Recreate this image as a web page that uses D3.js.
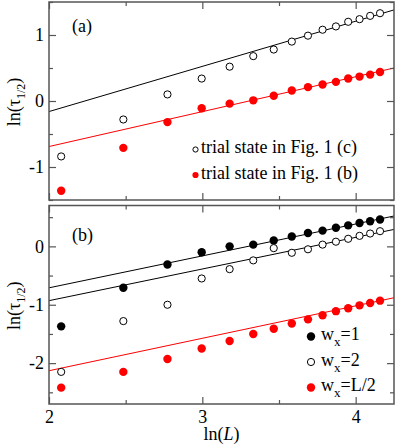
<!DOCTYPE html>
<html>
<head>
<meta charset="utf-8">
<script src="https://cdn.jsdelivr.net/npm/d3@7"></script>
<style>
  body { margin: 0; background: #fff; }
  svg text { font-family: "Liberation Serif", "Times New Roman", serif; fill: #000; }
</style>
</head>
<body>
<div id="chart"></div>
<script>
// system sizes L, plotted as ln(L)
var sizes = [8, 12, 16, 20, 24, 28, 32, 36, 40, 44, 48, 52, 56, 60, 64];

// panel (a)
var trialC = [-0.84, -0.28, 0.10, 0.34, 0.52, 0.68, 0.78, 0.90, 0.99, 1.08, 1.13, 1.20, 1.24, 1.29, 1.33];
var trialB = [-1.36, -0.71, -0.32, -0.11, -0.04, 0.01, 0.08, 0.16, 0.21, 0.25, 0.29, 0.34, 0.37, 0.40, 0.44];
var fitC = [[2, -0.16], [4.25, 1.38]];
var fitB = [[2, -0.69], [4.25, 0.50]];

// panel (b)
var wx1 = [-1.37, -0.71, -0.31, -0.10, 0.00, 0.03, 0.10, 0.17, 0.23, 0.27, 0.32, 0.36, 0.40, 0.43, 0.46];
var wx2 = [-2.15, -1.28, -1.00, -0.55, -0.39, -0.24, -0.03, -0.11, -0.05, 0.03, 0.08, 0.13, 0.18, 0.22, 0.26];
var wxHalf = [-2.42, -2.15, -1.93, -1.75, -1.62, -1.50, -1.41, -1.32, -1.25, -1.18, -1.11, -1.06, -1.01, -0.97, -0.93];
var fitW1 = [[2, -0.71], [4.25, 0.52]];
var fitW2 = [[2, -0.93], [4.25, 0.29]];
var fitWHalf = [[2, -2.13], [4.25, -0.88]];

// ticks
var xMajor = [2, 3, 4];
var xMinor = [2.5, 3.5];
var yMajorA = [-1, 0, 1];
var yMinorA = [-1.5, -0.5, 0.5, 1.5];
var yMajorB = [-2, -1, 0];
var yMinorB = [-2.5, -1.5, -0.5, 0.5];

var legendA = ["trial state in Fig. 1 (c)", "trial state in Fig. 1 (b)"];
var legendB = ["1", "2", "L/2"];

var W = 395, H = 447;
var left = 49, right = 394;
var frameCol = "#555";

var svg = d3.select("#chart").append("svg")
    .attr("width", W)
    .attr("height", H);

var x = d3.scaleLinear().domain([2, 4.25]).range([left, right]);
var yA = d3.scaleLinear().domain([-1.5, 1.5]).range([200, 2]);
var yB = d3.scaleLinear().domain([-2.7, 0.7]).range([404, 205.5]);

var lnL = sizes.map(function(d) { return Math.log(d); });

// draw frame + ticks on all 4 sides for one panel
function panel(y, major, minor, showX) {
    var top = y.range()[1], bottom = y.range()[0];
    var g = svg.append("g");

    var fmt = function(d) { return String(d); };
    var none = function() { return ""; };

    g.append("g").attr("transform", "translate(0," + bottom + ")")
        .call(d3.axisBottom(x).tickValues(xMajor).tickSize(-7).tickPadding(6).tickFormat(showX ? fmt : none));
    g.append("g").attr("transform", "translate(0," + bottom + ")")
        .call(d3.axisBottom(x).tickValues(xMinor).tickSize(-4).tickFormat(none));
    g.append("g").attr("transform", "translate(0," + top + ")")
        .call(d3.axisTop(x).tickValues(xMajor).tickSize(-7).tickFormat(none));
    g.append("g").attr("transform", "translate(0," + top + ")")
        .call(d3.axisTop(x).tickValues(xMinor).tickSize(-4).tickFormat(none));

    g.append("g").attr("transform", "translate(" + left + ",0)")
        .call(d3.axisLeft(y).tickValues(major).tickSize(-7).tickPadding(5).tickFormat(fmt));
    g.append("g").attr("transform", "translate(" + left + ",0)")
        .call(d3.axisLeft(y).tickValues(minor).tickSize(-4).tickFormat(none));
    g.append("g").attr("transform", "translate(" + right + ",0)")
        .call(d3.axisRight(y).tickValues(major).tickSize(-7).tickFormat(none));
    g.append("g").attr("transform", "translate(" + right + ",0)")
        .call(d3.axisRight(y).tickValues(minor).tickSize(-4).tickFormat(none));

    g.selectAll(".domain").remove();
    g.selectAll(".tick line").attr("stroke", frameCol).attr("stroke-width", 1.2);
    g.selectAll(".tick text").style("font-size", "18px").attr("fill", "#000");

    g.append("rect")
        .attr("x", left).attr("y", top)
        .attr("width", right - left).attr("height", bottom - top)
        .attr("fill", "none")
        .attr("stroke", frameCol)
        .attr("stroke-width", 1.5);

    // y label ln(tau_1/2)
    var lab = svg.append("text")
        .attr("transform", "translate(20," + ((top + bottom) / 2 + 1) + ") rotate(-90)")
        .attr("text-anchor", "middle")
        .style("font-size", "18px");
    lab.append("tspan").text("ln(\u03c4");
    lab.append("tspan").attr("dy", 5).style("font-size", "12px").text("1/2");
    lab.append("tspan").attr("dy", -5).text(")");
}

function fitLine(y, pts, col) {
    svg.append("path")
        .datum(pts)
        .attr("d", d3.line().x(function(d) { return x(d[0]); }).y(function(d) { return y(d[1]); }))
        .attr("fill", "none")
        .attr("stroke", col)
        .attr("stroke-width", 1);
}

function dots(y, vals, col, open) {
    svg.append("g").selectAll("circle")
        .data(vals)
        .enter().append("circle")
        .attr("cx", function(d, i) { return x(lnL[i]); })
        .attr("cy", function(d) { return y(d); })
        .attr("r", open ? 3.6 : 4.2)
        .attr("fill", open ? "#fff" : col)
        .attr("stroke", open ? col : "none")
        .attr("stroke-width", 1);
}

// panel (a)
fitLine(yA, fitC, "#000");
fitLine(yA, fitB, "#ff0000");
dots(yA, trialC, "#000", true);
dots(yA, trialB, "#ff0000", false);
panel(yA, yMajorA, yMinorA, false);

svg.append("text").attr("x", 72).attr("y", 32).style("font-size", "18px").text("(a)");

var legA = [{c: "#000", open: true}, {c: "#ff0000", open: false}];
legendA.forEach(function(t, i) {
    var ly = 149.5 + i * 25.5;
    svg.append("circle")
        .attr("cx", 195.5).attr("cy", ly)
        .attr("r", legA[i].open ? 2.6 : 3.1)
        .attr("fill", legA[i].open ? "#fff" : legA[i].c)
        .attr("stroke", legA[i].open ? legA[i].c : "none");
    svg.append("text")
        .attr("x", 201).attr("y", ly + 3.6)
        .style("font-size", "18px")
        .text(t);
});

// panel (b)
fitLine(yB, fitW1, "#000");
fitLine(yB, fitW2, "#000");
fitLine(yB, fitWHalf, "#ff0000");
dots(yB, wx1, "#000", false);
dots(yB, wx2, "#000", true);
dots(yB, wxHalf, "#ff0000", false);
panel(yB, yMajorB, yMinorB, true);

svg.append("text").attr("x", 72).attr("y", 241).style("font-size", "18px").text("(b)");

var legB = [{c: "#000", open: false}, {c: "#000", open: true}, {c: "#ff0000", open: false}];
legendB.forEach(function(t, i) {
    var ly = 336.5 + i * 25.5;
    svg.append("circle")
        .attr("cx", 311).attr("cy", ly)
        .attr("r", legB[i].open ? 3.6 : 4.2)
        .attr("fill", legB[i].open ? "#fff" : legB[i].c)
        .attr("stroke", legB[i].open ? legB[i].c : "none");
    var tx = svg.append("text")
        .attr("x", 321).attr("y", ly + 3.5)
        .style("font-size", "18px");
    tx.append("tspan").text("w");
    tx.append("tspan").attr("dy", 6).style("font-size", "13px").text("x");
    tx.append("tspan").attr("dy", -6).text("=" + t);
});

// x label ln(L)
var xl = svg.append("text")
    .attr("x", (left + right) / 2).attr("y", 440)
    .attr("text-anchor", "middle")
    .style("font-size", "18px");
xl.append("tspan").text("ln(");
xl.append("tspan").style("font-style", "italic").text("L");
xl.append("tspan").text(")");
</script>
</body>
</html>
